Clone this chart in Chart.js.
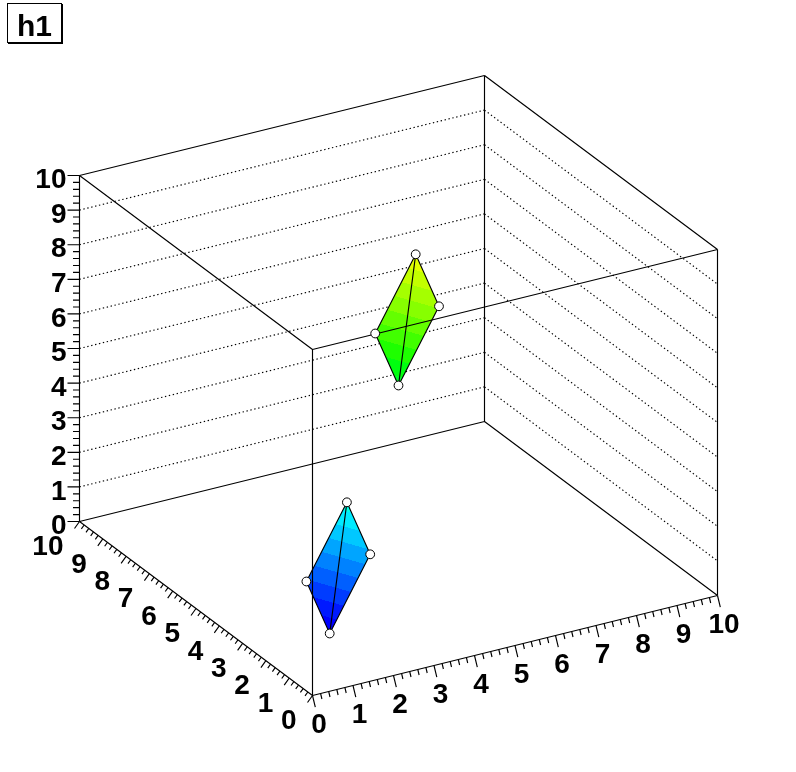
<!DOCTYPE html>
<html>
<head>
<meta charset="utf-8">
<title>h1</title>
<script src="https://cdn.jsdelivr.net/npm/chart.js@4/dist/chart.umd.min.js"></script>
<style>
  html, body { margin: 0; padding: 0; background: #fff; }
  #wrap { position: relative; width: 796px; height: 772px; }
  #chartH1 { position: absolute; left: 0; top: 0; }
  #title {
    position: absolute; left: 7px; top: 3px; width: 53px; height: 38px;
    border: 1px solid #000; box-shadow: 1px 1px 0 #000; background: #fff;
    font: bold 30px "Liberation Sans", Arial, sans-serif; line-height: 43px; text-align: center;
  }
</style>
</head>
<body>
<div id="wrap">
  <canvas id="chartH1" width="796" height="772"></canvas>
  <div id="title">h1</div>
</div>
<script>
// the eight points of the graph
const pointX = [1, 2, 1, 2, 5, 6, 5, 6];
const pointY = [1, 1, 2, 2, 5, 5, 6, 6];
const pointZ = [1, 3, 2, 4, 5, 7, 6, 8];

const tickValues = [0, 1, 2, 3, 4, 5, 6, 7, 8, 9, 10];
const tickLabels = ['0', '1', '2', '3', '4', '5', '6', '7', '8', '9', '10'];
const gridZ = [1, 2, 3, 4, 5, 6, 7, 8, 9];

// contour levels, one colour per band
const contourStart = [1, 1];
const contourStep = 0.35;
const lowerBands = ['#0000ff', '#0019ff', '#003cff', '#005fff', '#0082ff', '#00a5ff', '#00c8ff', '#00ebff', '#00ffe6'];
const upperBands = ['#00ff28', '#00ff0f', '#1eff00', '#41ff00', '#64ff00', '#87ff00', '#a5ff00', '#c3ff00', '#e1ff00'];
const firstBand = [0, 11];

// 3d view, picture is an orthographic projection of the box
function project(x, y, z) {
  return {
    x: 312.5 + 40.5 * x - 23.3 * y,
    y: 695.5 - 10 * x - 17.4 * y - 34.6 * z,
  };
}

function segment(a, b) {
  return [project(a[0], a[1], a[2]), project(b[0], b[1], b[2])];
}

function lineSet(data, order, extra) {
  return Object.assign({
    type: 'scatter',
    data: data,
    showLine: true,
    spanGaps: false,
    pointRadius: 0,
    borderColor: '#000',
    borderWidth: 1.15,
    fill: false,
    tension: 0,
    clip: false,
    order: order,
  }, extra || {});
}

const gap = { x: NaN, y: NaN };

function joined(segments) {
  let out = [];
  segments.forEach(function (s) {
    out = out.concat(s, [gap]);
  });
  return out;
}

// back walls
const backEdges = joined([
  segment([0, 10, 10], [10, 10, 10]),
  segment([10, 10, 10], [10, 0, 10]),
  segment([10, 10, 0], [10, 10, 10]),
  segment([0, 10, 0], [10, 10, 0]),
  segment([10, 10, 0], [10, 0, 0]),
  segment([0, 10, 0], [0, 10, 10]),
  segment([0, 0, 0], [10, 0, 0]),
  segment([0, 0, 0], [0, 10, 0]),
]);

// front box edges go over the surfaces
const frontEdges = joined([
  segment([0, 0, 0], [0, 0, 10]),
  segment([0, 0, 10], [0, 10, 10]),
  segment([0, 0, 10], [10, 0, 10]),
  segment([10, 0, 0], [10, 0, 10]),
]);

const gridLines = joined(gridZ.map(function (z) {
  return segment([0, 10, z], [10, 10, z]);
}).concat(gridZ.map(function (z) {
  return segment([10, 10, z], [10, 0, z]);
})));

function axisTicks(along, major, minor) {
  const out = [];
  tickValues.forEach(function (v, i) {
    for (let k = 0; k < 5; k++) {
      if (i === tickValues.length - 1 && k > 0) break;
      const p = along(v + k * 0.2);
      const d = k === 0 ? major : minor;
      out.push({ x: p.x, y: p.y }, { x: p.x + d[0], y: p.y + d[1] }, gap);
    }
  });
  return out;
}

const xTicks = axisTicks(function (v) { return project(v, 0, 0); }, [2.8, 11.7], [1.3, 5.5]);
const yTicks = axisTicks(function (v) { return project(0, v, 0); }, [-5, 7], [-2.8, 3.9]);
const zTicks = axisTicks(function (v) { return project(0, 10, v); }, [-12, 0], [-6.5, 0]);

// outline of one surface: both triangles of the parallelogram
function surfaceOutline(first) {
  return [0, 1, 3, 0, 2, 3].map(function (k) {
    return project(pointX[first + k], pointY[first + k], pointZ[first + k]);
  });
}

const markerData = pointX.map(function (x, i) {
  return project(x, pointY[i], pointZ[i]);
});

const surfaceFill = {
  id: 'surfaceFill',
  beforeDatasetDraw(chart, args) {
    const ds = chart.data.datasets[args.index];
    if (ds.surfaceStart === undefined) return;
    const pts = chart.getDatasetMeta(args.index).data;
    const s = ds.surfaceStart;
    // screen gradient of z on the plane through three of the points
    const ax = pts[0].x, ay = pts[0].y;
    const ux = pts[1].x - ax, uy = pts[1].y - ay;
    const vx = pts[4].x - ax, vy = pts[4].y - ay;
    const dzu = pointZ[s + 1] - pointZ[s];
    const dzv = pointZ[s + 2] - pointZ[s];
    const det = ux * vy - uy * vx;
    const gx = (dzu * vy - dzv * uy) / det;
    const gy = (ux * dzv - vx * dzu) / det;
    const g2 = gx * gx + gy * gy;
    const bands = ds.bands;
    const z0 = ds.contourLow;
    const z1 = z0 + bands.length * contourStep;
    const ctx = chart.ctx;
    const grad = ctx.createLinearGradient(
      ax + gx * (z0 - pointZ[s]) / g2, ay + gy * (z0 - pointZ[s]) / g2,
      ax + gx * (z1 - pointZ[s]) / g2, ay + gy * (z1 - pointZ[s]) / g2
    );
    bands.forEach(function (c, i) {
      grad.addColorStop(i / bands.length, c);
      grad.addColorStop((i + 1) / bands.length, c);
    });
    ctx.save();
    ctx.beginPath();
    ctx.moveTo(pts[0].x, pts[0].y);
    ctx.lineTo(pts[1].x, pts[1].y);
    ctx.lineTo(pts[2].x, pts[2].y);
    ctx.lineTo(pts[4].x, pts[4].y);
    ctx.closePath();
    ctx.fillStyle = grad;
    ctx.fill();
    ctx.restore();
  },
};

const tickText = {
  id: 'tickText',
  afterDatasetsDraw(chart) {
    const ctx = chart.ctx;
    const sx = chart.scales.x, sy = chart.scales.y;
    ctx.save();
    ctx.font = 'bold 28px "Liberation Sans", Arial, sans-serif';
    ctx.fillStyle = '#000';
    ctx.textBaseline = 'middle';
    tickValues.forEach(function (v, i) {
      const px = project(v, 0, 0);
      ctx.textAlign = 'center';
      ctx.fillText(tickLabels[i], sx.getPixelForValue(px.x) + 6.5, sy.getPixelForValue(px.y) + 30);
      const py = project(0, v, 0);
      ctx.textAlign = 'right';
      ctx.fillText(tickLabels[i], sx.getPixelForValue(py.x) - 16, sy.getPixelForValue(py.y) + 26);
      const pz = project(0, 10, v);
      ctx.fillText(tickLabels[i], sx.getPixelForValue(pz.x) - 13, sy.getPixelForValue(pz.y) + 5);
    });
    ctx.restore();
  },
};

const chartH1Config = {
  type: 'scatter',
  plugins: [surfaceFill, tickText],
  data: {
    datasets: [
      lineSet(gridLines, 60, { borderDash: [1.4, 2.6] }),
      lineSet(backEdges, 50),
      lineSet(xTicks, 50),
      lineSet(yTicks, 50),
      lineSet(zTicks, 50),
      lineSet(surfaceOutline(0), 40, { surfaceStart: 0, bands: lowerBands, contourLow: contourStart[0] + firstBand[0] * contourStep }),
      lineSet(surfaceOutline(4), 40, { surfaceStart: 4, bands: upperBands, contourLow: contourStart[1] + firstBand[1] * contourStep }),
      lineSet(frontEdges, 30),
      {
        type: 'scatter',
        data: markerData,
        pointRadius: 4.4,
        pointBackgroundColor: '#fff',
        pointBorderColor: '#000',
        pointBorderWidth: 1,
        clip: false,
        order: 10,
      },
    ],
  },
  options: {
    responsive: false,
    animation: false,
    layout: { padding: 0, autoPadding: false },
    scales: {
      x: { type: 'linear', display: false, min: 0, max: 796 },
      y: { type: 'linear', display: false, min: 0, max: 772, reverse: true },
    },
    plugins: {
      legend: { display: false },
      tooltip: { enabled: false },
    },
  },
};

const chartH1 = new Chart(document.getElementById('chartH1'), chartH1Config);
</script>
</body>
</html>
